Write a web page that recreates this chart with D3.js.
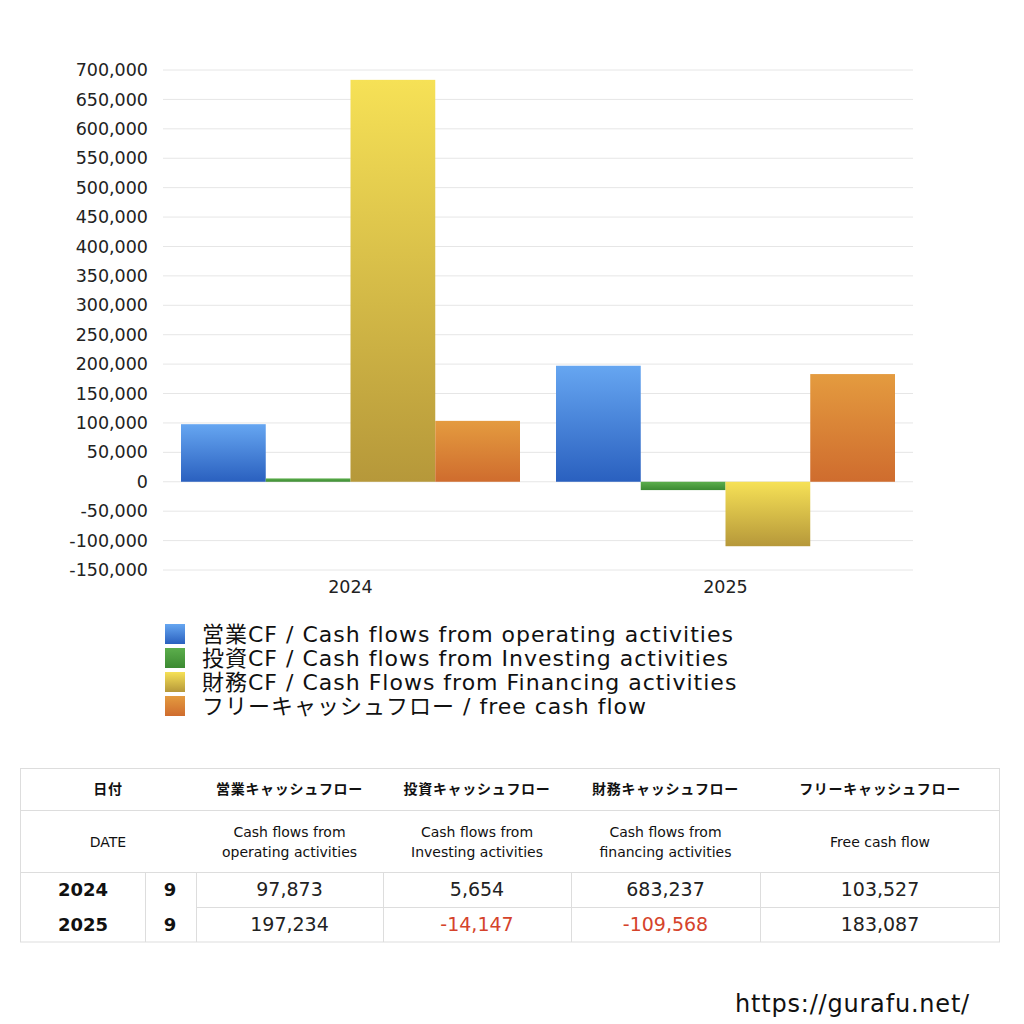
<!DOCTYPE html>
<html><head><meta charset="utf-8">
<script src="https://cdn.jsdelivr.net/npm/d3@7/dist/d3.min.js"></script>
<style>
html,body{margin:0;padding:0;background:#fff;}
svg text{font-family:"DejaVu Sans","Noto Sans CJK JP",sans-serif;}
</style></head>
<body>
<svg id="c" width="1024" height="1024"></svg>
<script>
const years = ["2024", "2025"];
const months = ["9", "9"];
const seriesKeys = ["op", "inv", "fin", "free"];
const legendLabels = [
  "営業CF / Cash flows from operating activities",
  "投資CF / Cash flows from Investing activities",
  "財務CF / Cash Flows from Financing activities",
  "フリーキャッシュフロー / free cash flow"
];
const operating = [97873, 197234];
const investing = [5654, -14147];
const financing = [683237, -109568];
const freeCF = [103527, 183087];
const yTicks = [700000,650000,600000,550000,500000,450000,400000,350000,300000,250000,200000,150000,100000,50000,0,-50000,-100000,-150000];
const headerJa = ["日付", "営業キャッシュフロー", "投資キャッシュフロー", "財務キャッシュフロー", "フリーキャッシュフロー"];
const headerEn = [["DATE"], ["Cash flows from","operating activities"], ["Cash flows from","Investing activities"], ["Cash flows from","financing activities"], ["Free cash flow"]];
const gradStops = [["#66a6f1","#2a60bf"],["#5cae4c","#3c8a32"],["#f6e156","#b6983a"],["#e49b3f","#cf6c2e"]];

const values = [operating, investing, financing, freeCF];
const svg = d3.select("#c");
const defs = svg.append("defs");
gradStops.forEach((g,i)=>{
  const lg = defs.append("linearGradient").attr("id","g"+i).attr("x1",0).attr("y1",0).attr("x2",0).attr("y2",1);
  lg.append("stop").attr("offset","0%").attr("stop-color",g[0]);
  lg.append("stop").attr("offset","100%").attr("stop-color",g[1]);
});

const L=163, R=913, T=70, B=570;
const y = d3.scaleLinear().domain([-150000,700000]).range([B,T]);
const x0 = d3.scaleBand().domain(years).range([L,R]).padding(0);
const pad = x0.bandwidth()*0.048;
const x1 = d3.scaleBand().domain(seriesKeys).range([pad, x0.bandwidth()-pad]).padding(0);

// grid
svg.append("g").selectAll("line").data(yTicks).join("line")
  .attr("x1",L).attr("x2",R).attr("y1",d=>y(d)).attr("y2",d=>y(d))
  .attr("stroke","#e6e6e6").attr("stroke-width",1);

// y axis labels
const fmt = v => d3.format(",")(v).replace("\u2212","-");
svg.append("g").selectAll("text").data(yTicks).join("text")
  .attr("x",148).attr("y",d=>y(d)).attr("dy","0.35em")
  .attr("text-anchor","end").attr("font-size",17.5).attr("fill","#222")
  .text(d=>fmt(d));

// bars
years.forEach((yr,yi)=>{
  const g = svg.append("g").attr("transform",`translate(${x0(yr)},0)`);
  seriesKeys.forEach((k,si)=>{
    const v = values[si][yi];
    g.append("rect")
      .attr("x",x1(k)).attr("width",x1.bandwidth())
      .attr("y",y(Math.max(0,v))).attr("height",Math.abs(y(v)-y(0)))
      .attr("fill",`url(#g${si})`);
  });
});

// x labels
svg.append("g").selectAll("text").data(years).join("text")
  .attr("x",d=>x0(d)+x0.bandwidth()/2).attr("y",593)
  .attr("text-anchor","middle").attr("font-size",17.5).attr("fill","#222").text(d=>d);

// legend
const lg = svg.append("g");
legendLabels.forEach((t,i)=>{
  const cy = 634 + i*24;
  lg.append("rect").attr("x",165).attr("y",cy-10).attr("width",20).attr("height",20).attr("fill",`url(#g${i})`);
  lg.append("text").attr("x",202).attr("y",cy).attr("dy","0.36em").attr("font-size",22).attr("letter-spacing",1).attr("fill","#111").text(t);
});

// table
const tb = svg.append("g");
const colX = [20,196,383,571,760,1000];
const rowY = [768,810,872,907,942];
const lineC = "#dddddd";
tb.append("rect").attr("x",20.5).attr("y",768.5).attr("width",979).attr("height",173.5).attr("fill","none").attr("stroke",lineC);
[810,872].forEach(yy=>tb.append("line").attr("x1",20).attr("x2",1000).attr("y1",yy+0.5).attr("y2",yy+0.5).attr("stroke",lineC));
tb.append("line").attr("x1",196).attr("x2",1000).attr("y1",907.5).attr("y2",907.5).attr("stroke",lineC);
[145,196,383,571,760].forEach(xx=>tb.append("line").attr("x1",xx+0.5).attr("x2",xx+0.5).attr("y1",872).attr("y2",942).attr("stroke",lineC));

headerJa.forEach((t,i)=>{
  tb.append("text").attr("x",(colX[i]+colX[i+1])/2).attr("y",789).attr("dy","0.35em")
    .attr("text-anchor","middle").attr("font-size",14).attr("letter-spacing",0.7).attr("font-weight","bold").attr("fill","#111").text(t);
});
headerEn.forEach((lines,i)=>{
  const cx=(colX[i]+colX[i+1])/2;
  const n=lines.length;
  lines.forEach((t,j)=>{
    tb.append("text").attr("x",cx).attr("y",842+(j-(n-1)/2)*20).attr("dy","0.35em")
      .attr("text-anchor","middle").attr("font-size",14).attr("fill","#111").text(t);
  });
});
years.forEach((yr,yi)=>{
  const cy=(rowY[2+yi]+rowY[3+yi])/2;
  tb.append("text").attr("x",83).attr("y",cy).attr("dy","0.35em").attr("text-anchor","middle")
    .attr("font-size",18).attr("font-weight","bold").attr("fill","#111").text(yr);
  tb.append("text").attr("x",170).attr("y",cy).attr("dy","0.35em").attr("text-anchor","middle")
    .attr("font-size",18).attr("font-weight","bold").attr("fill","#111").text(months[yi]);
  values.forEach((arr,si)=>{
    const v=arr[yi];
    tb.append("text").attr("x",(colX[si+1]+colX[si+2])/2).attr("y",cy).attr("dy","0.35em").attr("text-anchor","middle")
      .attr("font-size",19).attr("fill",v<0?"#d5432b":"#222").text(fmt(v));
  });
});

svg.append("text").attr("x",970).attr("y",1004).attr("dy","0.35em").attr("text-anchor","end")
  .attr("font-size",24).attr("letter-spacing",0.8).attr("fill","#111").text("https://gurafu.net/");
</script>
</body></html>
